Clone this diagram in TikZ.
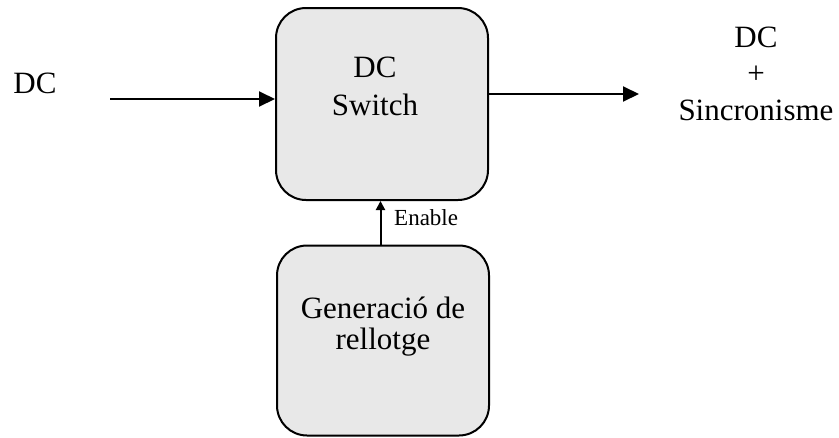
\documentclass[tikz,border=0pt]{standalone}
\usepackage{fontspec}
\setmainfont{Liberation Serif}
\usetikzlibrary{arrows.meta}
\definecolor{boxgray}{HTML}{E8E8E8}
\begin{document}
\begin{tikzpicture}[x=1pt,y=1pt,
  blockbox/.style={draw=black, line width=2pt, fill=boxgray, rounded corners=30pt, minimum width=212pt, minimum height=192pt, inner sep=0pt},
  bigtext/.style={font=\fontsize{31}{36}\selectfont, anchor=base, inner sep=0pt},
  smalltext/.style={font=\fontsize{23}{26}\selectfont, anchor=base west, inner sep=0pt},
  mainarrow/.style={line width=2pt, -{Triangle[length=16pt,width=15pt]}},
  enarrow/.style={line width=2pt, -{Triangle[length=9pt,width=9pt]}}]
\useasboundingbox (0,0) rectangle (839,-437);
% blocks
\node[blockbox] (sw) at (382,-104) {};
\node[blockbox, minimum height=190pt] (ck) at (383,-340.5) {};
% block texts
\node[bigtext] (swt1) at (375,-77) {DC};
\node[bigtext] (swt2) at (375,-115) {Switch};
\node[bigtext] (ckt1) at (383,-318) {Generació de};
\node[bigtext] (ckt2) at (383,-349) {rellotge};
% outer labels
\node[bigtext] (dcin) at (35,-93) {DC};
\node[bigtext] (dco1) at (756,-47) {DC};
\node[bigtext] (dco2) at (756,-83.5) {+};
\node[bigtext] (dco3) at (756,-120) {Sincronisme};
\node[smalltext] (en) at (394,-225) {Enable};
% connectors
\coordinate (inp) at (110,-99);
\coordinate (outp) at (639,-94);
\draw[mainarrow] (inp) -- (inp -| sw.west);
\draw[mainarrow] (sw.east |- outp) -- (outp);
\draw[enarrow] ([xshift=-2.5pt]ck.north) -- ([xshift=-1.5pt]sw.south);
\end{tikzpicture}
\end{document}
